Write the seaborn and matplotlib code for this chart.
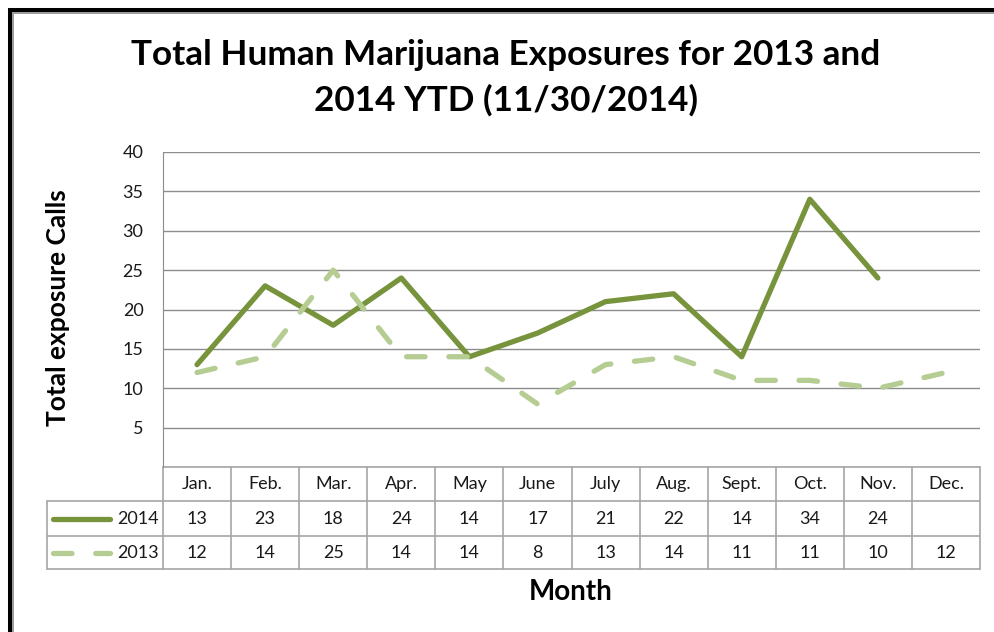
import matplotlib
matplotlib.use('Agg')
import matplotlib.pyplot as plt
import matplotlib.transforms as mtransforms
from matplotlib.lines import Line2D
import pandas as pd
import seaborn as sns

# Data
months = ['Jan.', 'Feb.', 'Mar.', 'Apr.', 'May', 'June', 'July', 'Aug.',
          'Sept.', 'Oct.', 'Nov.', 'Dec.']
calls_2014 = [13, 23, 18, 24, 14, 17, 21, 22, 14, 34, 24, None]
calls_2013 = [12, 14, 25, 14, 14, 8, 13, 14, 11, 11, 10, 12]
years = ['2014', '2013']
yticks = [0, 5, 10, 15, 20, 25, 30, 35, 40]

colors = {'2014': '#77933C', '2013': '#B5CD92'}
dashes = {'2014': '', '2013': (3.5, 4.5)}

W, H = 994, 632


def main():
    sns.set_style('white')
    plt.rcParams['font.family'] = ['Lato', 'DejaVu Sans']
    plt.rcParams['lines.dash_capstyle'] = 'round'
    plt.rcParams['lines.solid_capstyle'] = 'round'
    plt.rcParams['lines.solid_joinstyle'] = 'round'
    plt.rcParams['lines.dash_joinstyle'] = 'round'

    df = pd.DataFrame({
        'idx': list(range(len(months))) * 2,
        'month': months * 2,
        'calls': calls_2014 + calls_2013,
        'year': ['2014'] * len(months) + ['2013'] * len(months),
    })

    fig = plt.figure(figsize=(W / 100, H / 100), dpi=100)
    ax = fig.add_axes([163 / W, 1 - 467 / H, (980 - 163) / W, (467 - 152) / H])

    sns.lineplot(data=df, x='idx', y='calls', hue='year', style='year',
                 palette=colors, dashes=dashes, linewidth=3.8,
                 legend=False, sort=False, ax=ax)

    grid_c = '#8C8C8C'
    tab_c = '#A6A6A6'
    txt_c = '#1A1A1A'
    ax.set_xlim(-0.5, len(months) - 0.5)
    ax.set_ylim(0, 40)
    ax.set_yticks(yticks)
    ax.set_yticklabels([''] + [str(t) for t in yticks[1:]])
    ax.set_xticks([])
    ax.tick_params(axis='y', direction='out', length=6, width=1, color=grid_c,
                   labelsize=13, pad=8, labelcolor=txt_c)
    ax.yaxis.grid(True, color=grid_c, linewidth=1)
    ax.set_axisbelow(True)
    for s in ['top', 'right', 'bottom']:
        ax.spines[s].set_visible(False)
    ax.spines['left'].set_color(grid_c)
    ax.set_xlabel('')
    ax.set_ylabel('')

    # Data table below the axes
    tr = mtransforms.blended_transform_factory(ax.transData, ax.transAxes)
    colw = (980 - 163) / len(months)
    left_x = -0.5 - (163 - 47) / colw
    right_x = len(months) - 0.5
    rows_y = [0, -34 / 315, -69 / 315, -102 / 315]

    def hline(x0, x1, y):
        ax.add_line(Line2D([x0, x1], [y, y], transform=tr, color=tab_c,
                           lw=1.2, clip_on=False))

    def vline(x, y0, y1):
        ax.add_line(Line2D([x, x], [y0, y1], transform=tr, color=tab_c,
                           lw=1.2, clip_on=False))

    hline(-0.5, right_x, rows_y[0])
    for y in rows_y[1:]:
        hline(left_x, right_x, y)
    for i in range(len(months) + 1):
        vline(i - 0.5, rows_y[0], rows_y[3])
    vline(left_x, rows_y[1], rows_y[3])

    def cell_y(r):
        return (rows_y[r] + rows_y[r + 1]) / 2

    for i, m in enumerate(months):
        ax.text(i, cell_y(0), m, transform=tr, ha='center', va='center',
                fontsize=13, color=txt_c)
    series = {'2014': calls_2014, '2013': calls_2013}
    for r, yr in enumerate(years, start=1):
        for i, v in enumerate(series[yr]):
            if v is not None:
                ax.text(i, cell_y(r), str(v), transform=tr, ha='center',
                        va='center', fontsize=13, color=txt_c)
        ax.add_line(Line2D([left_x + 6 / colw, left_x + 63 / colw],
                           [cell_y(r)] * 2, transform=tr, color=colors[yr],
                           lw=3.8, dashes=dashes[yr] if dashes[yr] else (None, None),
                           clip_on=False))
        ax.text(-0.5 - 4 / colw, cell_y(r), yr, transform=tr, ha='right',
                va='center', fontsize=13, color=txt_c)

    # Titles and labels
    fig.text(506 / W, 1 - 55 / H, 'Total Human Marijuana Exposures for 2013 and',
             ha='center', va='center', fontsize=25.3, fontweight='bold',
             color='black')
    fig.text(506 / W, 1 - 100 / H, '2014 YTD (11/30/2014)',
             ha='center', va='center', fontsize=25.3, fontweight='bold',
             color='black')
    fig.text(58 / W, 1 - 308 / H, 'Total exposure Calls', rotation=90,
             ha='center', va='center', fontsize=19, fontweight='bold',
             color='black')
    fig.text(571 / W, 1 - 592 / H, 'Month', ha='center', va='center',
             fontsize=20, fontweight='bold', color='black')

    # Frame (top and left edges only visible)
    def fline(xs, ys, c, lw):
        fig.add_artist(Line2D([x / W for x in xs], [1 - y / H for y in ys],
                              transform=fig.transFigure, color=c, lw=lw,
                              solid_capstyle='butt'))

    fline([8, W], [10, 10], 'black', 2.9)
    fline([10, 10], [8, H], 'black', 2.9)
    fline([12, W], [13, 13], '#9A9A9A', 1.4)
    fline([13, 13], [12, H], '#9A9A9A', 1.4)

    fig.savefig('out.png', dpi=100)


if __name__ == '__main__':
    main()
